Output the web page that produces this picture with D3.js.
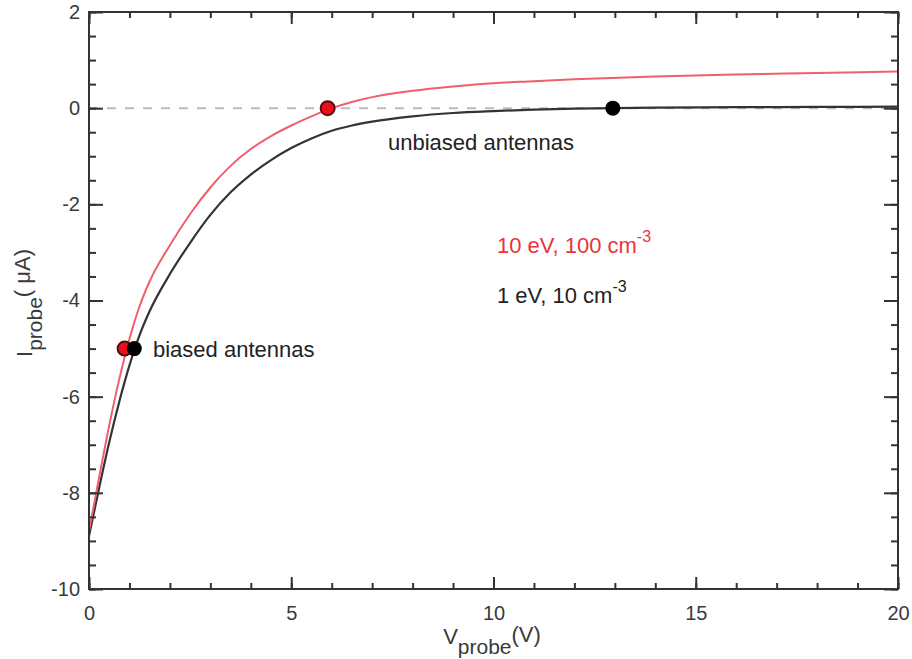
<!DOCTYPE html>
<html>
<head>
<meta charset="utf-8">
<script src="https://cdn.jsdelivr.net/npm/d3@7"></script>
<style>
  body { margin: 0; background: #fff; }
  text { font-family: "Liberation Sans", Arial, sans-serif; }
</style>
</head>
<body>
<script>
// probe voltage samples (V)
var vProbe = [0, 0.25, 0.5, 0.75, 1, 1.25, 1.5, 2, 2.5, 3, 3.5, 4, 4.5, 5, 5.5, 6, 6.5, 7, 8, 9, 10, 11, 12, 14, 16, 18, 20];
// 10 eV, 100 cm-3 (red)
var iHot = [-8.8, -7.68, -6.6, -5.63, -4.8, -4.12, -3.6, -2.85, -2.2, -1.65, -1.2, -0.85, -0.58, -0.36, -0.17, 0.0, 0.13, 0.23, 0.36, 0.45, 0.52, 0.56, 0.6, 0.66, 0.7, 0.73, 0.76];
// 1 eV, 10 cm-3 (black)
var iCold = [-8.9, -7.9, -6.95, -6.1, -5.35, -4.72, -4.22, -3.45, -2.8, -2.22, -1.75, -1.38, -1.08, -0.83, -0.63, -0.47, -0.36, -0.28, -0.17, -0.1, -0.06, -0.03, -0.01, 0.01, 0.02, 0.025, 0.03];
// operating points
var hotPoints = [[0.88, -5], [5.9, 0]];
var coldPoints = [[1.12, -5], [12.95, 0]];
var xTicks = [0, 5, 10, 15, 20];
var yTicks = [-10, -8, -6, -4, -2, 0, 2];

var w = 912, h = 659;
var padL = 89, padR = 898, padT = 12, padB = 589;

var svg = d3.select("body").append("svg")
    .attr("width", w)
    .attr("height", h);

var x = d3.scaleLinear().domain([0, 20]).range([padL, padR]);
var y = d3.scaleLinear().domain([-10, 2]).range([padB, padT]);

var axisColor = "#333";

// zero line
svg.append("line")
    .attr("x1", x(0)).attr("x2", x(20))
    .attr("y1", y(0)).attr("y2", y(0))
    .attr("stroke", "#bbb")
    .attr("stroke-width", 2)
    .attr("stroke-dasharray", "9,9");

// curves
var line = d3.line()
    .x(function(d) { return x(d[0]); })
    .y(function(d) { return y(d[1]); })
    .curve(d3.curveMonotoneX);

svg.append("path")
    .datum(vProbe.map(function(v, i) { return [v, iCold[i]]; }))
    .attr("d", line)
    .attr("fill", "none")
    .attr("stroke", "#333")
    .attr("stroke-width", 2.2);

svg.append("path")
    .datum(vProbe.map(function(v, i) { return [v, iHot[i]]; }))
    .attr("d", line)
    .attr("fill", "none")
    .attr("stroke", "#f0606a")
    .attr("stroke-width", 2);

// markers
svg.selectAll(".hot").data(hotPoints).enter().append("circle")
    .attr("class", "hot")
    .attr("cx", function(d) { return x(d[0]); })
    .attr("cy", function(d) { return y(d[1]); })
    .attr("r", 7)
    .attr("fill", "#e8101c")
    .attr("stroke", "#5a0a0a")
    .attr("stroke-width", 2);

svg.selectAll(".cold").data(coldPoints).enter().append("circle")
    .attr("class", "cold")
    .attr("cx", function(d) { return x(d[0]); })
    .attr("cy", function(d) { return y(d[1]); })
    .attr("r", 7.5)
    .attr("fill", "#000");

// axes with inward ticks on all sides
var xMinor = d3.range(0, 21, 1);
var yMinor = d3.range(-10, 2.01, 0.5);

function addAxis(axis, tx, ty) {
    var g = svg.append("g")
        .attr("transform", "translate(" + tx + "," + ty + ")")
        .call(axis);
    g.select(".domain").remove();
    g.selectAll("line").attr("stroke", axisColor).attr("stroke-width", 2);
    return g;
}

addAxis(d3.axisBottom(x).tickValues(xMinor).tickSize(-6).tickFormat(""), 0, padB);
addAxis(d3.axisTop(x).tickValues(xMinor).tickSize(-6).tickFormat(""), 0, padT);
addAxis(d3.axisLeft(y).tickValues(yMinor).tickSize(-7).tickFormat(""), padL, 0);
addAxis(d3.axisRight(y).tickValues(yMinor).tickSize(-7).tickFormat(""), padR, 0);

var plain = function(d) { return String(d); };
var gx = addAxis(d3.axisBottom(x).tickValues(xTicks).tickSize(-12).tickPadding(17).tickFormat(plain), 0, padB);
addAxis(d3.axisTop(x).tickValues(xTicks).tickSize(-12).tickFormat(""), 0, padT);
var gy = addAxis(d3.axisLeft(y).tickValues(yTicks).tickSize(-14).tickPadding(9).tickFormat(plain), padL, 0);
addAxis(d3.axisRight(y).tickValues(yTicks).tickSize(-14).tickFormat(""), padR, 0);

gx.selectAll("text").attr("font-size", 20).attr("fill", "#3a3a3a")
    .attr("font-family", "Liberation Sans, Arial, sans-serif");
gy.selectAll("text").attr("font-size", 20).attr("fill", "#3a3a3a")
    .attr("font-family", "Liberation Sans, Arial, sans-serif");

// frame
svg.append("rect")
    .attr("x", padL).attr("y", padT)
    .attr("width", padR - padL).attr("height", padB - padT)
    .attr("fill", "none")
    .attr("stroke", axisColor)
    .attr("stroke-width", 2);

// axis titles
var xt = svg.append("text")
    .attr("x", 492).attr("y", 644)
    .attr("text-anchor", "middle")
    .attr("font-size", 22)
    .attr("fill", "#3a3a3a");
xt.append("tspan").text("V");
xt.append("tspan").attr("dy", 10).attr("font-size", 21).text("probe");
xt.append("tspan").attr("dy", -12).text("(V)");

var yt = svg.append("text")
    .attr("transform", "translate(32,303) rotate(-90)")
    .attr("text-anchor", "middle")
    .attr("font-size", 22)
    .attr("fill", "#3a3a3a");
yt.append("tspan").text("I");
yt.append("tspan").attr("dy", 10).attr("font-size", 21).text("probe");
yt.append("tspan").attr("dy", -12).text("( \u03bcA)");

// annotations
svg.append("text")
    .attr("x", 388).attr("y", 150)
    .attr("font-size", 22)
    .attr("fill", "#222")
    .text("unbiased antennas");

svg.append("text")
    .attr("x", 153).attr("y", 357)
    .attr("font-size", 22)
    .attr("fill", "#222")
    .text("biased antennas");

var t1 = svg.append("text")
    .attr("x", 497).attr("y", 253)
    .attr("font-size", 22)
    .attr("fill", "#e8343c");
t1.append("tspan").text("10 eV, 100 cm");
t1.append("tspan").attr("dy", -11).attr("font-size", 16).text("-3");

var t2 = svg.append("text")
    .attr("x", 497).attr("y", 303)
    .attr("font-size", 22)
    .attr("fill", "#222");
t2.append("tspan").text("1 eV, 10 cm");
t2.append("tspan").attr("dy", -11).attr("font-size", 16).text("-3");
</script>
</body>
</html>
